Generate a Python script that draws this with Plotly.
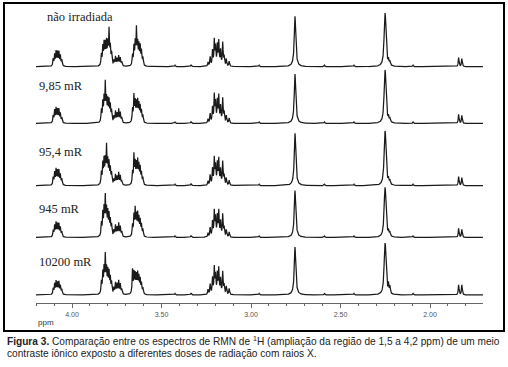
import numpy as np
import plotly.graph_objects as go

# ---------------- data ----------------
LABELS = ["não irradiada", "9,85 mR", "95,4 mR", "945 mR", "10200 mR"]

# peak positions (ppm), shared by all spectra
PEAK_PPM = [
    4.105, 4.097, 4.089, 4.081, 4.073, 4.065, 4.057,                       # A
    3.836, 3.828, 3.821, 3.814, 3.807, 3.800, 3.793, 3.786, 3.779,         # B
    3.766, 3.757, 3.748, 3.739, 3.730, 3.722,                              # C
    3.662, 3.654, 3.647, 3.640, 3.633, 3.626, 3.619, 3.612, 3.604,         # D
    3.425, 3.335,                                                          # tiny
    3.240, 3.228, 3.215, 3.205, 3.198, 3.188, 3.180, 3.170, 3.158, 3.150, 3.138, 3.122,  # E
    2.955, 2.590, 2.425, 2.095,                                            # tiny
    2.754,                                                                 # big
    2.253, 2.249,                                                          # big
    2.232, 2.224,                                                          # small
    1.840, 1.822,                                                          # doublet
]
BROAD_PEAKS = [2.754, 2.253, 2.249]

# peak heights for each spectrum (same order as PEAK_PPM)
H_NAO_IRRADIADA = [
    14, 22, 28, 26, 27, 20, 12,
    22, 36, 42, 40, 44, 40, 68, 34, 24,
    10, 18, 14, 20, 16, 8,
    20, 36, 42, 70, 40, 38, 36, 28, 16,
    3, 4,
    8, 18, 30, 50, 36, 40, 48, 30, 46, 18, 14, 10,
    3, 3, 3, 3,
    101,
    62, 62,
    10, 8,
    18, 16,
]
H_9_85 = [
    14, 24, 28, 25, 26, 18, 10,
    24, 38, 44, 74, 42, 40, 40, 32, 22,
    12, 22, 18, 26, 20, 10,
    26, 52, 38, 36, 40, 34, 30, 22, 14,
    3, 4,
    8, 18, 30, 54, 38, 42, 52, 32, 48, 20, 14, 10,
    3, 3, 3, 3,
    99,
    62, 62,
    10, 8,
    18, 16,
]
H_95_4 = [
    15, 24, 30, 27, 28, 20, 12,
    24, 40, 46, 44, 72, 42, 40, 30, 22,
    10, 20, 16, 24, 18, 8,
    24, 58, 40, 38, 44, 36, 32, 22, 14,
    3, 4,
    8, 20, 32, 52, 36, 42, 50, 30, 46, 18, 14, 10,
    3, 3, 3, 3,
    105,
    64, 64,
    10, 8,
    18, 16,
]
H_945 = [
    13, 22, 27, 24, 25, 18, 10,
    26, 44, 50, 74, 48, 44, 40, 30, 22,
    12, 22, 18, 26, 20, 10,
    22, 40, 52, 38, 42, 34, 30, 22, 14,
    3, 4,
    8, 18, 30, 50, 36, 40, 50, 30, 44, 18, 14, 10,
    3, 3, 3, 3,
    94,
    58, 58,
    10, 8,
    18, 16,
]
H_10200 = [
    12, 20, 25, 22, 24, 17, 10,
    24, 40, 46, 72, 44, 42, 40, 30, 22,
    12, 22, 20, 26, 20, 10,
    48, 40, 36, 34, 38, 32, 28, 20, 12,
    3, 4,
    10, 20, 32, 52, 36, 40, 50, 30, 44, 18, 16, 12,
    3, 3, 3, 3,
    96,
    60, 60,
    18, 14,
    20, 20,
]
HEIGHTS = [H_NAO_IRRADIADA, H_9_85, H_95_4, H_945, H_10200]

TICK_VALS = [4.0, 3.5, 3.0, 2.5, 2.0]
TICK_TEXT = ["4.00", "3.50", "3.00", "2.50", "2.00"]

CAPTION_1 = "<b>Figura 3.</b> Comparação entre os espectros de RMN de <sup>1</sup>H (ampliação da região de 1,5 a 4,2 ppm) de um meio"
CAPTION_2 = "contraste iônico exposto a diferentes doses de radiação com raios X."

# ---------------- layout / style ----------------
W, H = 508, 367
ML, MR, MT, MB = 36, 25, 3, 64
PW, PH = W - ML - MR, H - MT - MB
X_RANGE = [4.2011, 1.7039]
BASELINE_PX = [66.7, 123.5, 185.7, 237.5, 295.0]   # pixel row of each baseline
UNIT_PX = 0.5                                       # pixels per intensity unit
Y_LO, Y_HI = -6, 110
LABEL_POS = [(45, 17), (37, 86), (37, 152), (37, 209), (37, 262)]

GAMMA_NARROW = 0.0025
GAMMA_BROAD = 0.005

grid = np.arange(X_RANGE[0], X_RANGE[1], -0.0005)


def spectrum(heights):
    y = np.zeros_like(grid)
    for p, h in zip(PEAK_PPM, heights):
        g = GAMMA_BROAD if p in BROAD_PEAKS else GAMMA_NARROW
        y += h * g * g / ((grid - p) ** 2 + g * g)
    return y


fig = go.Figure()
layout_axes = {}
for i, (lab, hts) in enumerate(zip(LABELS, HEIGHTS)):
    yname = "y" if i == 0 else f"y{i + 1}"
    axname = "yaxis" if i == 0 else f"yaxis{i + 1}"
    fig.add_trace(go.Scatter(
        x=grid, y=spectrum(hts), mode="lines", xaxis="x", yaxis=yname,
        line=dict(color="#1a1a1a", width=1.25), hoverinfo="skip", showlegend=False,
    ))
    b = BASELINE_PX[i]
    bot_px = b - Y_LO * UNIT_PX
    top_px = b - Y_HI * UNIT_PX
    dom = [(H - MB - bot_px) / PH, (H - MB - top_px) / PH]
    layout_axes[axname] = dict(domain=dom, range=[Y_LO, Y_HI], visible=False,
                               fixedrange=True, anchor="x")

fig.update_layout(**layout_axes)

annotations = []
for lab, (lx, ly) in zip(LABELS, LABEL_POS):
    annotations.append(dict(
        text=lab, xref="paper", yref="paper",
        x=(lx - ML) / PW, y=(H - MB - ly) / PH,
        xanchor="left", yanchor="middle", showarrow=False,
        font=dict(family="Liberation Serif", size=12.5, color="#222222"),
    ))
annotations.append(dict(
    text="ppm", xref="paper", yref="paper", x=0, y=(H - MB - 322) / PH,
    xanchor="left", yanchor="middle", showarrow=False,
    font=dict(family="Liberation Sans", size=8, color="#333333"),
))
for txt, cy in [(CAPTION_1, 341), (CAPTION_2, 353)]:
    annotations.append(dict(
        text=txt, xref="paper", yref="paper", x=(5 - ML) / PW, y=(H - MB - cy) / PH,
        xanchor="left", yanchor="middle", showarrow=False,
        font=dict(family="Liberation Sans", size=10.15, color="#222222"),
    ))

fig.update_layout(
    width=W, height=H, autosize=False,
    margin=dict(l=ML, r=MR, t=MT, b=MB, pad=0),
    paper_bgcolor="white", plot_bgcolor="rgba(0,0,0,0)",
    xaxis=dict(
        range=X_RANGE, anchor="free", position=0, showgrid=False, zeroline=False,
        showline=True, linecolor="#666666", linewidth=1.2,
        ticks="outside", ticklen=4, tickwidth=1, tickcolor="#666666",
        tickmode="array", tickvals=TICK_VALS, ticktext=TICK_TEXT,
        tickfont=dict(family="Liberation Sans", size=7, color="#555555"),
        minor=dict(ticks="outside", ticklen=2, tickcolor="#666666",
                   tickmode="linear", tick0=2.0, dtick=0.1),
        fixedrange=True,
    ),
    annotations=annotations,
    shapes=[dict(type="rect", xref="paper", yref="paper",
                 x0=(4 - ML) / PW, x1=(504 - ML) / PW,
                 y0=(H - MB - 331) / PH, y1=(H - MB - 3) / PH,
                 line=dict(color="black", width=2))],
)

fig.write_html(
    "out.html",
    config={"displayModeBar": False, "staticPlot": True},
    post_script="document.body.style.margin='0px';document.body.style.padding='0px';"
                "document.body.style.overflow='hidden';",
)
